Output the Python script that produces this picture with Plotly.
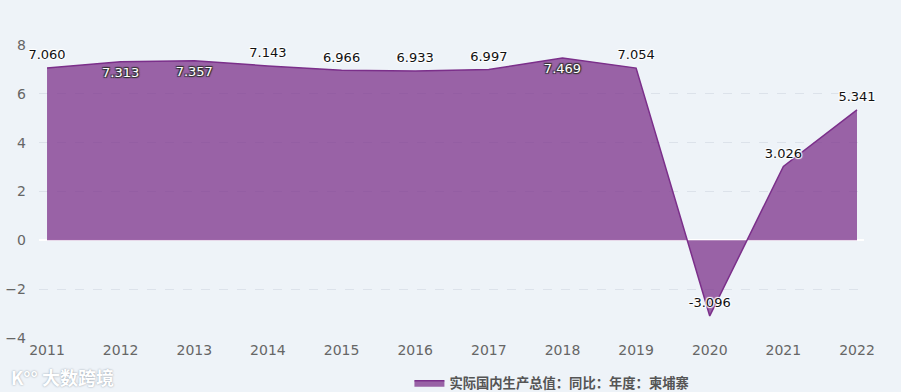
import plotly.graph_objects as go

years = ["2011", "2012", "2013", "2014", "2015", "2016", "2017", "2018", "2019", "2020", "2021", "2022"]
values = [7.060, 7.313, 7.357, 7.143, 6.966, 6.933, 6.997, 7.469, 7.054, -3.096, 3.026, 5.341]
series_name = "实际国内生产总值：同比：年度：柬埔寨"
y_ticks = [-4, -2, 0, 2, 4, 6, 8]

# label placement (style)
label_pos = ["top center", "bottom center", "bottom center", "top center", "top center", "top center",
             "top center", "bottom center", "top center", "top center", "top center", "top center"]

fig = go.Figure()
fig.add_trace(go.Scatter(
    x=years, y=values, mode="lines", name=series_name,
    line=dict(color="#7b2f8a", width=1.5),
    fill="tozeroy", fillcolor="rgba(123,47,138,0.74)",
    showlegend=True,
))

inside = [i for i, p in enumerate(label_pos) if p.startswith("bottom")]
outside = [i for i, p in enumerate(label_pos) if not p.startswith("bottom")]

fig.add_trace(go.Scatter(
    x=[years[i] for i in outside], y=[values[i] for i in outside], mode="markers+text",
    marker=dict(size=7, opacity=0),
    text=[f"{values[i]:.3f}" for i in outside],
    textposition=[label_pos[i] for i in outside],
    textfont=dict(family="DejaVu Sans", size=13, color="#111111",
                  shadow="1px 1px 1px #ffffff, -1px -1px 1px #ffffff, 1px -1px 1px #ffffff, -1px 1px 1px #ffffff"),
    showlegend=False, hoverinfo="skip", cliponaxis=False,
))
fig.add_trace(go.Scatter(
    x=[years[i] for i in inside], y=[values[i] for i in inside], mode="markers+text",
    marker=dict(size=7, opacity=0),
    text=[f"{values[i]:.3f}" for i in inside],
    textposition=[label_pos[i] for i in inside],
    textfont=dict(family="DejaVu Sans", size=13, color="#ffffff",
                  shadow="1px 1px 1px #333333, -1px -1px 1px #333333, 1px -1px 1px #333333, -1px 1px 1px #333333"),
    showlegend=False, hoverinfo="skip", cliponaxis=False,
))

fig.add_annotation(
    text="K°° 大数跨境", xref="paper", yref="paper", x=-0.036, y=-0.133,
    xanchor="left", yanchor="middle", showarrow=False,
    font=dict(family="Noto Sans CJK SC", size=18, color="#ffffff", weight="bold",
              shadow="0px 0px 2px #8f99a4"),
)

fig.update_layout(
    width=901, height=392,
    margin=dict(l=39, r=37, t=45, b=54, autoexpand=False),
    paper_bgcolor="#eef3f8", plot_bgcolor="#eef3f8",
    font=dict(family="DejaVu Sans", size=14, color="#666666"),
    legend=dict(orientation="h", x=0.449, xanchor="left", y=-0.154, yanchor="middle",
                font=dict(family="Noto Sans CJK SC", size=13.3, color="#555555", weight="bold"),
                bgcolor="rgba(0,0,0,0)", itemwidth=30),
    xaxis=dict(type="category", range=[-0.109, 11.095], showgrid=False, zeroline=False,
               showline=False, ticks="", tickfont=dict(size=14, color="#666666"),
               ticklabelstandoff=2, automargin=False),
    yaxis=dict(range=[-4, 8], tickvals=y_ticks, showgrid=True, gridcolor="#dce2ea",
               griddash="dash", gridwidth=1, zeroline=True, zerolinecolor="#ffffff",
               zerolinewidth=1.5, showline=False, ticks="", tickfont=dict(size=14, color="#666666"),
               ticklabelstandoff=12, automargin=False),
    showlegend=True,
)

fig.write_html("out.html", config={"displayModeBar": False},
               post_script="document.body.style.margin='0';document.body.style.overflow='hidden';")
